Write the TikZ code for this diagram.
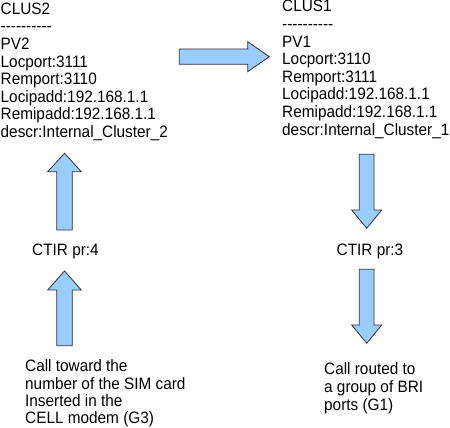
\documentclass[tikz,border=0pt]{standalone}
\usepackage{fontspec}
\setmainfont[FakeStretch=0.93,Ligatures=TeXOff]{Liberation Sans}
\definecolor{arrowblue}{HTML}{99CCFF}
\definecolor{arrowline}{HTML}{333333}
\begin{document}
\begin{tikzpicture}[x=1pt,y=-1pt,
  blockarrow/.style={fill=arrowblue, draw=arrowline, line width=0.8pt, line join=miter},
  txt/.style={inner sep=0pt, anchor=base west, align=left, font=\fontsize{16.5}{17.6}\selectfont},
  txtb/.style={txt, font=\fontsize{16.5}{17.2}\selectfont}]
\useasboundingbox (0,0) rectangle (450,428);
% text blocks (anchored at the baseline of their last line)
\node[txt] (clus2) at (0.5,137.5) {CLUS2\\----------\\PV2\\Locport:3111\\Remport:3110\\Locipadd:192.168.1.1\\Remipadd:192.168.1.1\\descr:Internal\_Cluster\_2};
\node[txt] (clus1) at (282,135) {CLUS1\\----------\\PV1\\Locport:3110\\Remport:3111\\Locipadd:192.168.1.1\\Remipadd:192.168.1.1\\descr:Internal\_Cluster\_1};
\node[txt] (ctir4) at (32,255) {CTIR pr:4};
\node[txt] (ctir3) at (336.5,255) {CTIR pr:3};
\node[txtb] (callg3) at (25,423.5) {Call toward the\\number of the SIM card\\Inserted in the\\CELL modem (G3)};
\node[txt] (callg1) at (324,410) {Call routed to\\a group of BRI\\ports (G1)};
% block arrows
\draw[blockarrow] (179.3,49) -- (247.7,49) -- (247.7,41.7) -- (269.3,56.7) -- (247.7,71.7) -- (247.7,64.3) -- (179.3,64.3) -- cycle;
\draw[blockarrow] (56.7,230) -- (56.7,171.7) -- (47.7,171.7) -- (64.5,153.3) -- (81.3,171.7) -- (72.3,171.7) -- (72.3,230) -- cycle;
\draw[blockarrow] (56.7,345.7) -- (56.7,290) -- (47.7,290) -- (64.5,271) -- (81.3,290) -- (72.3,290) -- (72.3,345.7) -- cycle;
\draw[blockarrow] (359.3,154.3) -- (374,154.3) -- (374,210) -- (381.7,210) -- (366.7,228.3) -- (351.7,210) -- (359.3,210) -- cycle;
\draw[blockarrow] (359.3,269.3) -- (374,269.3) -- (374,325) -- (381.7,325) -- (366.7,343.3) -- (351.7,325) -- (359.3,325) -- cycle;
\end{tikzpicture}
\end{document}
